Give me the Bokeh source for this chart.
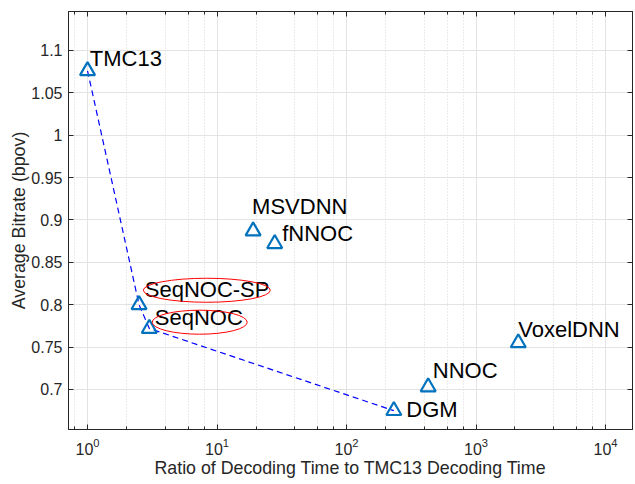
from bokeh.plotting import figure
from bokeh.models import (ColumnDataSource, Range1d, LogAxis, LinearAxis, FixedTicker,
                          LogTicker, CustomJSTickFormatter)
from bokeh.embed import file_html
from bokeh.resources import INLINE
from bokeh.core.properties import value

# ---------------- data ----------------
methods = ["TMC13", "SeqNOC-SP", "SeqNOC", "MSVDNN", "fNNOC", "DGM", "NNOC", "VoxelDNN"]
time_ratio = [1.0, 2.5, 3.0, 19.0, 27.9, 232.0, 427.0, 2120.0]
bitrate = [1.076, 0.800, 0.772, 0.887, 0.872, 0.675, 0.703, 0.755]

pareto_methods = ["TMC13", "SeqNOC-SP", "SeqNOC", "DGM"]
highlighted = ["SeqNOC-SP", "SeqNOC"]

y_ticks = [0.7, 0.75, 0.8, 0.85, 0.9, 0.95, 1.0, 1.05, 1.1]
y_tick_labels = ["0.7", "0.75", "0.8", "0.85", "0.9", "0.95", "1", "1.05", "1.1"]

x_label = "Ratio of Decoding Time to TMC13 Decoding Time"
y_label = "Average Bitrate (bpov)"

# ---------------- layout (screen px / annotation placement) ----------------
BASE_FIX = -9.0
label_dx = [2.3, 5.7, 5.5, -1.0, 7.5, 12.4, 4.6, 0.0]
label_dy = [-3.3, -6.2, -1.5, -15.6, -1.0, 8.0, -7.0, -4.0]
ellipse_x = [8.34, 7.35]
ellipse_y = [0.8171, 0.7794]
ellipse_w = [127, 95]
ellipse_h = [24, 24]

FONT = "Liberation Sans"
AX_COLOR = "#262626"

pts = ColumnDataSource(dict(x=time_ratio, y=bitrate, name=methods, dx=label_dx,
                            dy=[d + BASE_FIX for d in label_dy]))
idx = [methods.index(m) for m in pareto_methods]
front = ColumnDataSource(dict(x=[time_ratio[i] for i in idx], y=[bitrate[i] for i in idx]))

p = figure(width=635, height=484, x_axis_type="log",
           x_range=Range1d(0.7129, 16160), y_range=Range1d(0.6528, 1.146),
           output_backend="svg", toolbar_location=None,
           min_border_left=68, min_border_right=3, min_border_top=11, min_border_bottom=55)
p.background_fill_color = "white"
p.border_fill_color = "white"
p.outline_line_color = AX_COLOR

# grids
p.xgrid.grid_line_color = "#e3e3e3"
p.xgrid.minor_grid_line_color = "#d6d6d6"
p.xgrid.minor_grid_line_dash = "1 2"
p.ygrid.grid_line_color = "#e3e3e3"
p.ygrid.ticker = FixedTicker(ticks=y_ticks)

xt = LogTicker(desired_num_ticks=6)
yt = FixedTicker(ticks=y_ticks)
blank = CustomJSTickFormatter(code="return ''")

def style_axis(ax, show_labels=True):
    ax.axis_line_color = AX_COLOR
    ax.major_tick_line_color = AX_COLOR
    ax.minor_tick_line_color = AX_COLOR
    ax.major_tick_in = 5
    ax.major_tick_out = 0
    ax.minor_tick_in = 3
    ax.minor_tick_out = 0
    ax.major_label_text_font = FONT
    ax.major_label_text_color = AX_COLOR
    ax.major_label_text_font_size = "16px"
    if show_labels:
        ax.major_label_standoff = 6
    else:
        ax.formatter = blank
        ax.major_label_standoff = 0

xa = p.xaxis[0]
xa.ticker = xt
style_axis(xa)
xa.major_label_standoff = 8
xa.axis_label = x_label
xa.axis_label_text_font = FONT
xa.axis_label_text_font_size = "17.8px"
xa.axis_label_text_font_style = "normal"
xa.axis_label_text_color = AX_COLOR
xa.axis_label_standoff = 0

ya = p.yaxis[0]
ya.ticker = yt
ya.major_label_overrides = {t: s for t, s in zip(y_ticks, y_tick_labels)}
style_axis(ya)
ya.minor_tick_in = 0
ya.axis_label = y_label
ya.axis_label_text_font = FONT
ya.axis_label_text_font_size = "17.8px"
ya.axis_label_text_font_style = "normal"
ya.axis_label_text_color = AX_COLOR
ya.axis_label_standoff = -1

top = LogAxis(ticker=xt)
style_axis(top, show_labels=False)
p.add_layout(top, "above")
right = LinearAxis(ticker=yt)
style_axis(right, show_labels=False)
right.minor_tick_in = 0
p.add_layout(right, "right")

# pareto front
p.line("x", "y", source=front, line_color="#0000ff", line_width=1.2, line_dash="6 4")

# markers
p.scatter("x", "y", source=pts, marker="triangle", size=15, fill_color=None,
          line_color="#0072BD", line_width=2.2)

# labels
p.text("x", "y", text="name", source=pts, x_offset="dx", y_offset="dy",
       text_font=value(FONT), text_font_size="22px", text_color="black",
       text_align="left", text_baseline="alphabetic")

# highlight ellipses around the proposed methods
p.ellipse(x=ellipse_x, y=ellipse_y, width=ellipse_w, height=ellipse_h,
          width_units="screen", height_units="screen",
          fill_color=None, line_color="#ff0000", line_width=1)

open("out.html", "w").write(file_html(p, INLINE))
